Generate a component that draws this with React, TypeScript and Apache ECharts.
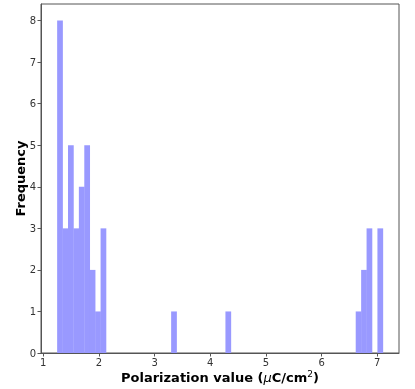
import React, { useEffect, useRef } from "react";
import * as echarts from "echarts";

// Histogram bins (left edge, right edge) and counts for non-empty bins
const binLeft = [1.25, 1.3475, 1.445, 1.5425, 1.64, 1.7375, 1.835, 1.9325, 2.03, 3.2975, 4.2725, 6.6125, 6.71, 6.8075, 7.0025];
const binRight = [1.3475, 1.445, 1.5425, 1.64, 1.7375, 1.835, 1.9325, 2.03, 2.1275, 3.395, 4.37, 6.71, 6.8075, 6.905, 7.1];
const counts = [8, 3, 5, 3, 4, 5, 2, 1, 3, 1, 1, 1, 2, 3, 3];
const xTicks = [1, 2, 3, 4, 5, 6, 7];
const yTicks = [0, 1, 2, 3, 4, 5, 6, 7, 8];

export default function App() {
  const ref = useRef<HTMLDivElement>(null);
  useEffect(() => {
    if (!ref.current) return;
    const chart = echarts.init(ref.current, null, { renderer: "svg" });
    const data = binLeft.map((l, i) => [l, binRight[i], counts[i]]);
    const font = "DejaVu Sans";
    chart.setOption({
      animation: false,
      textStyle: { fontFamily: font },
      grid: {
        left: 41, right: 16, top: 4, bottom: 36,
        containLabel: false, outerBoundsMode: "none",
        show: true, borderColor: "#555", borderWidth: 1, backgroundColor: "transparent",
      },
      xAxis: {
        type: "value",
        min: 0.96,
        max: 7.39,
        splitLine: { show: false },
        axisLine: { show: true, onZero: false, lineStyle: { color: "#555" } },
        axisTick: { show: true, customValues: xTicks, length: 3.5, lineStyle: { color: "#555" } },
        axisLabel: { customValues: xTicks, color: "#333", fontSize: 10, fontFamily: font, margin: 4 },
        name: "{b|Polarization value (}{i|μ}{b|C/cm}{s|2}{b|)}",
        nameLocation: "middle",
        nameGap: 16,
        nameMoveOverlap: false,
        nameTextStyle: {
          rich: {
            b: { fontWeight: "bold", fontSize: 13, fontFamily: font, color: "#000" },
            i: { fontStyle: "italic", fontSize: 13, fontFamily: font, color: "#000" },
            s: { fontSize: 9, fontFamily: font, color: "#000", padding: [0, 0, 7, 0] },
          },
        },
      },
      yAxis: {
        type: "value",
        min: 0,
        max: 8.4,
        splitLine: { show: false },
        axisLine: { show: true, lineStyle: { color: "#555" } },
        axisTick: { show: true, customValues: yTicks, length: 3.5, lineStyle: { color: "#555" } },
        axisLabel: { customValues: yTicks, color: "#333", fontSize: 10, fontFamily: font, margin: 5 },
        name: "Frequency",
        nameLocation: "middle",
        nameGap: 14,
        nameMoveOverlap: false,
        nameRotate: 90,
        nameTextStyle: { fontWeight: "bold", fontSize: 13, fontFamily: font, color: "#000" },
      },
      series: [
        {
          type: "custom",
          data,
          encode: { x: [0, 1], y: 2 },
          renderItem: (params: any, api: any) => {
            const p0 = api.coord([api.value(0), api.value(2)]);
            const p1 = api.coord([api.value(1), 0]);
            return {
              type: "rect",
              shape: { x: p0[0], y: p0[1], width: p1[0] - p0[0] + 0.3, height: p1[1] - p0[1] },
              style: { fill: "#9999ff", stroke: "none", lineWidth: 0 },
            };
          },
        },
      ],
    });
    return () => chart.dispose();
  }, []);
  return <div ref={ref} style={{ position: "fixed", left: 0, top: 0, width: 415, height: 389 }} />;
}
